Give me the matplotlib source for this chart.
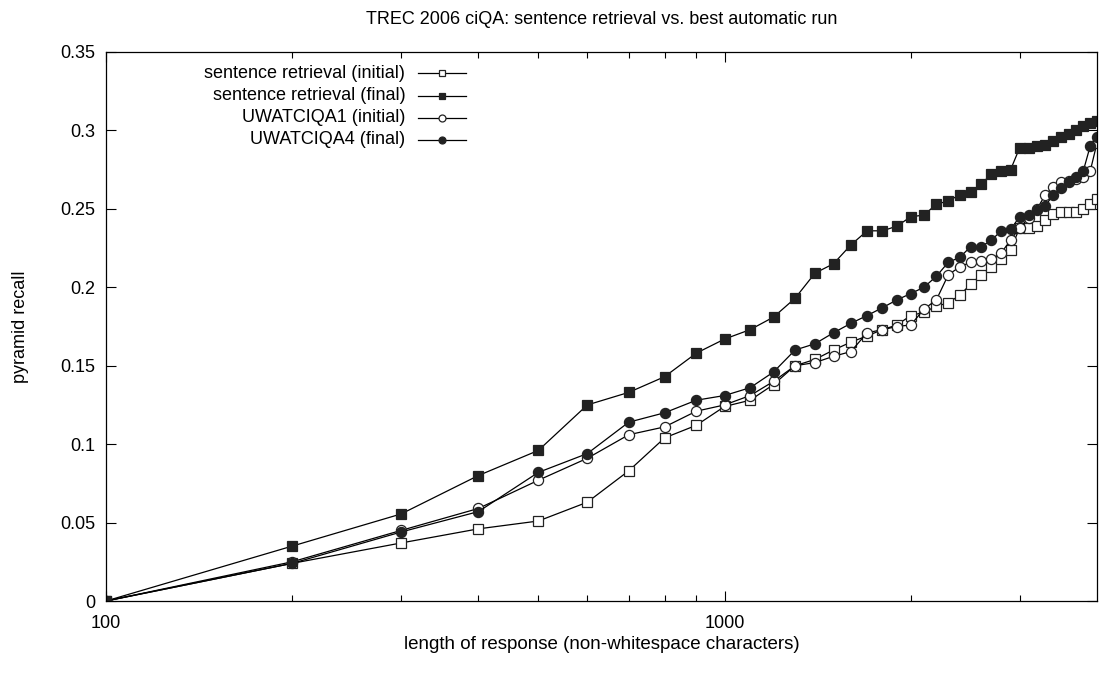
import numpy as np
import matplotlib
matplotlib.use("Agg")
import matplotlib.pyplot as plt
from matplotlib.ticker import FixedLocator, NullFormatter

plt.rcParams["font.family"] = ["Liberation Sans", "DejaVu Sans"]

# response length (non-whitespace characters), 100 .. 4000 in steps of 100
lengths = list(range(100, 4001, 100))

sent_initial = [0.000, 0.024, 0.037, 0.046, 0.051, 0.063, 0.083, 0.104, 0.112, 0.124,
                0.128, 0.138, 0.150, 0.154, 0.160, 0.165, 0.169, 0.173, 0.176, 0.182,
                0.184, 0.188, 0.190, 0.195, 0.202, 0.208, 0.213, 0.218, 0.224, 0.238,
                0.238, 0.239, 0.243, 0.247, 0.248, 0.248, 0.248, 0.250, 0.253, 0.256]

sent_final = [0.000, 0.035, 0.0555, 0.080, 0.096, 0.125, 0.133, 0.143, 0.158, 0.167,
              0.173, 0.181, 0.193, 0.209, 0.215, 0.227, 0.236, 0.236, 0.239, 0.245,
              0.246, 0.253, 0.255, 0.259, 0.261, 0.266, 0.272, 0.274, 0.275, 0.289,
              0.289, 0.290, 0.291, 0.293, 0.296, 0.298, 0.300, 0.303, 0.305, 0.306]

uw1_initial = [0.000, 0.025, 0.045, 0.059, 0.077, 0.091, 0.106, 0.111, 0.121, 0.125,
               0.131, 0.140, 0.150, 0.152, 0.156, 0.159, 0.171, 0.173, 0.175, 0.176,
               0.186, 0.192, 0.208, 0.213, 0.216, 0.217, 0.218, 0.222, 0.230, 0.238,
               0.244, 0.250, 0.259, 0.264, 0.267, 0.268, 0.269, 0.270, 0.274, 0.292]

uw4_final = [0.000, 0.024, 0.044, 0.057, 0.082, 0.094, 0.114, 0.120, 0.128, 0.131,
             0.136, 0.146, 0.160, 0.164, 0.171, 0.177, 0.182, 0.187, 0.192, 0.196,
             0.200, 0.207, 0.216, 0.219, 0.226, 0.226, 0.230, 0.236, 0.237, 0.245,
             0.246, 0.249, 0.252, 0.259, 0.263, 0.267, 0.270, 0.274, 0.290, 0.296]

series = [
    ("sentence retrieval (initial)", sent_initial, "s", "white"),
    ("sentence retrieval (final)", sent_final, "s", "#222222"),
    ("UWATCIQA1 (initial)", uw1_initial, "o", "white"),
    ("UWATCIQA4 (final)", uw4_final, "o", "#222222"),
]

FS = 13

fig = plt.figure(figsize=(11.01, 6.73), dpi=100)
ax = fig.add_axes([106 / 1101, 1 - 601 / 673, (1097 - 106) / 1101, (601 - 52) / 673])

for label, vals, mk, face in series:
    ax.plot(lengths, vals, color="black", lw=0.9, marker=mk, ms=7.3,
            mfc=face, mec="#222222", mew=0.9)

ax.set_xscale("log")
ax.set_xlim(100, 4000)
ax.set_ylim(0, 0.35)

ax.xaxis.set_major_locator(FixedLocator([100, 1000]))
ax.xaxis.set_minor_locator(FixedLocator([200, 300, 400, 500, 600, 700, 800, 900, 2000, 3000]))
ax.xaxis.set_minor_formatter(NullFormatter())
ax.set_xticklabels(["100", "1000"])
ax.set_yticks([0, 0.05, 0.1, 0.15, 0.2, 0.25, 0.3, 0.35])
ax.set_yticklabels(["0", "0.05", "0.1", "0.15", "0.2", "0.25", "0.3", "0.35"])

ax.tick_params(which="both", direction="in", top=True, right=True, labelsize=FS, width=0.8)
ax.tick_params(axis="x", which="major", length=7, pad=10)
ax.tick_params(axis="y", which="major", length=7, pad=8)
ax.tick_params(which="minor", length=4)
for s in ax.spines.values():
    s.set_linewidth(0.9)

ax.set_title("TREC 2006 ciQA: sentence retrieval vs. best automatic run", fontsize=FS, pad=20)
ax.set_xlabel("length of response (non-whitespace characters)", fontsize=13.5, labelpad=3)
ax.set_ylabel("pyramid recall", fontsize=FS, labelpad=22)

# gnuplot-style key: right-aligned text followed by a line sample with marker
key_text_x = 0.302
key_line = [0.315, 0.339, 0.363]
key_rows = [0.961, 0.920, 0.880, 0.840]
for (label, vals, mk, face), ky in zip(series, key_rows):
    ax.text(key_text_x, ky, label, transform=ax.transAxes, ha="right", va="center",
            fontsize=FS)
    ax.plot(key_line, [ky] * 3, transform=ax.transAxes, color="black", lw=0.9,
            marker=mk, ms=5, mfc=face, mec="#222222", mew=0.9, markevery=[1])

fig.savefig("out.png", dpi=100, facecolor="white")
